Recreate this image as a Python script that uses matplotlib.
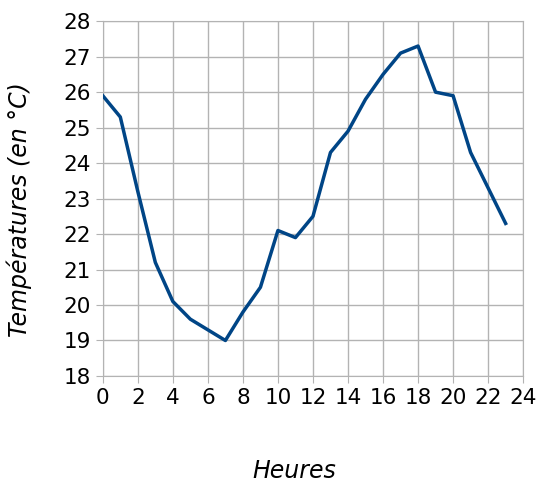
import numpy as np
import matplotlib.pyplot as plt

heures = list(range(24))
temperatures = [25.9, 25.3, 23.2, 21.2, 20.1, 19.6, 19.3, 19.0, 19.8, 20.5,
                22.1, 21.9, 22.5, 24.3, 24.9, 25.8, 26.5, 27.1, 27.3, 26.0,
                25.9, 24.3, 23.3, 22.3]

fig = plt.figure(figsize=(5.41, 4.82), dpi=100)
ax = fig.add_axes([0.19, 0.22, 0.777, 0.736])

ax.plot(heures, temperatures, color="#004586", linewidth=2.5, zorder=3)

ax.set_xlim(0, 24)
ax.set_ylim(18, 28)
ax.set_xticks(range(0, 25, 2))
ax.set_yticks(range(18, 29, 1))
ax.grid(True, color="#b3b3b3", linewidth=1)
ax.set_axisbelow(True)
for s in ax.spines.values():
    s.set_color("#b3b3b3")
ax.tick_params(axis="both", color="#b3b3b3", length=5, labelsize=15.5)

ax.set_xlabel("Heures", fontsize=17, style="italic")
ax.set_ylabel("Températures (en °C)", fontsize=17, style="italic")
ax.xaxis.set_label_coords(0.455, -0.235)
ax.yaxis.set_label_coords(-0.168, 0.468)

fig.savefig("out.png", dpi=100)
